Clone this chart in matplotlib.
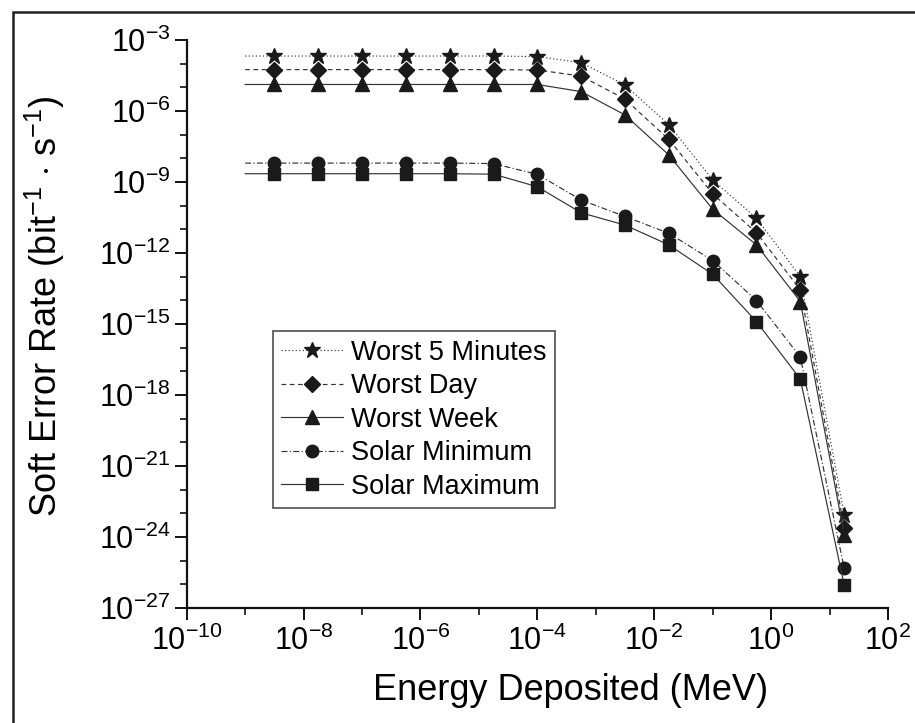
import matplotlib
matplotlib.use('Agg')
import matplotlib.pyplot as plt
from matplotlib.ticker import FixedLocator, LogFormatterSciNotation, NullFormatter
from matplotlib.patches import Rectangle

plt.rcParams['font.family'] = ['Liberation Sans', 'DejaVu Sans']
plt.rcParams['mathtext.fontset'] = 'custom'
plt.rcParams['mathtext.rm'] = 'Liberation Sans'
plt.rcParams['mathtext.it'] = 'Liberation Sans:italic'
plt.rcParams['mathtext.bf'] = 'Liberation Sans:bold'

# Energy deposited (MeV); first point is the line start (no marker)
energy = [1e-9, 3.16e-9, 1.78e-8, 1e-7, 5.62e-7, 3.16e-6, 1.78e-5, 1e-4,
          5.62e-4, 3.16e-3, 1.78e-2, 0.1, 0.562, 3.16, 17.8]

worst_5min = [2.1e-4, 2.1e-4, 2.1e-4, 2.1e-4, 2.1e-4, 2.1e-4, 2.1e-4, 2.0e-4,
              1.1e-4, 1.26e-5, 2.6e-7, 1.23e-9, 2.95e-11, 1.0e-13, 8.5e-24]
worst_day = [5.6e-5, 5.6e-5, 5.6e-5, 5.6e-5, 5.6e-5, 5.6e-5, 5.6e-5, 5.4e-5,
             3.0e-5, 3.16e-6, 6.3e-8, 3.16e-10, 7.2e-12, 2.8e-14, 2.5e-24]
worst_week = [1.32e-5, 1.32e-5, 1.32e-5, 1.32e-5, 1.32e-5, 1.32e-5, 1.32e-5, 1.32e-5,
              6.6e-6, 6.8e-7, 1.38e-8, 7.1e-11, 2.2e-12, 8.9e-15, 1.26e-24]
solar_min = [6.3e-9, 6.3e-9, 6.3e-9, 6.3e-9, 6.3e-9, 6.3e-9, 6.0e-9, 2.1e-9,
             1.74e-10, 3.5e-11, 6.8e-12, 4.8e-13, 9.8e-15, 4.0e-17, 4.8e-26]
solar_max = [2.24e-9, 2.24e-9, 2.24e-9, 2.24e-9, 2.24e-9, 2.24e-9, 2.14e-9, 6.3e-10,
             5.0e-11, 1.51e-11, 2.2e-12, 1.26e-13, 1.26e-15, 4.7e-18, 9.3e-27]

labels = ["Worst 5 Minutes", "Worst Day", "Worst Week", "Solar Minimum", "Solar Maximum"]

x_major = [1e-10, 1e-8, 1e-6, 1e-4, 1e-2, 1e0, 1e2]
x_minor = [1e-9, 1e-7, 1e-5, 1e-3, 1e-1, 1e1]
y_major = [1e-27, 1e-24, 1e-21, 1e-18, 1e-15, 1e-12, 1e-9, 1e-6, 1e-3]
y_minor = [1e-26, 1e-25, 1e-23, 1e-22, 1e-20, 1e-19, 1e-17, 1e-16, 1e-14, 1e-13,
           1e-11, 1e-10, 1e-8, 1e-7, 1e-5, 1e-4]

W, H = 915, 723
fig = plt.figure(figsize=(W / 100, H / 100), dpi=100)
ax = fig.add_axes([186.7 / W, 1 - 608 / H, (888 - 186.7) / W, (608 - 40) / H])

series = [worst_5min, worst_day, worst_week, solar_min, solar_max]
markers = ['*', 'D', '^', 'o', 's']
msizes = [12, 8, 10, 9, 8.5]
styles = [(0, (1, 2)), (0, (4, 3)), '-', (0, (5, 2, 1, 2)), '-']
col = '#1a1a1a'
for s, lab, m, ms, ls in zip(series, labels, markers, msizes, styles):
    ax.plot(energy, s, linestyle=ls, color='#333333', linewidth=0.85, marker=m,
            markersize=ms, markerfacecolor=col, markeredgecolor=col,
            markevery=slice(1, None), label=lab)

ax.set_xscale('log')
ax.set_yscale('log')
ax.set_xlim(1e-10, 1e2)
ax.set_ylim(1e-27, 1e-3)

ax.xaxis.set_major_locator(FixedLocator(x_major))
ax.xaxis.set_minor_locator(FixedLocator(x_minor))
ax.yaxis.set_major_locator(FixedLocator(y_major))
ax.yaxis.set_minor_locator(FixedLocator(y_minor))
ax.xaxis.set_major_formatter(LogFormatterSciNotation())
ax.yaxis.set_major_formatter(LogFormatterSciNotation())
ax.xaxis.set_minor_formatter(NullFormatter())
ax.yaxis.set_minor_formatter(NullFormatter())

for sp in ['top', 'right']:
    ax.spines[sp].set_visible(False)
for sp in ['left', 'bottom']:
    ax.spines[sp].set_linewidth(1.6)
    ax.spines[sp].set_color('#111111')

ax.tick_params(which='major', direction='out', length=8.5, width=1.4,
               labelsize=22, color='#111111', pad=4)
ax.tick_params(which='minor', direction='out', length=5, width=1.2, color='#111111')
ax.tick_params(axis='y', which='major', pad=3)

ax.set_xlabel("Energy Deposited (MeV)", fontsize=26)
ax.xaxis.set_label_coords(0.547, -0.115)
ax.set_ylabel(r"Soft Error Rate (bit$^{-1}$ $\cdot$ s$^{-1}$)", fontsize=26)
ax.yaxis.set_label_coords(-0.17, 0.532)

leg = ax.legend(loc='lower left', bbox_to_anchor=(0.1226, 0.176), fontsize=19.5,
                frameon=True, fancybox=False, edgecolor='#222222',
                handlelength=2.3, handletextpad=0.3, labelspacing=0.28,
                borderpad=0.3, borderaxespad=0)
leg.get_frame().set_linewidth(1.2)

fig.patches.append(Rectangle((13 / W, -0.05), 1.1, 1 - 12 / H + 0.05,
                             transform=fig.transFigure, fill=False,
                             edgecolor='#222222', linewidth=1.8))

fig.savefig('out.png', dpi=100, facecolor='white')
